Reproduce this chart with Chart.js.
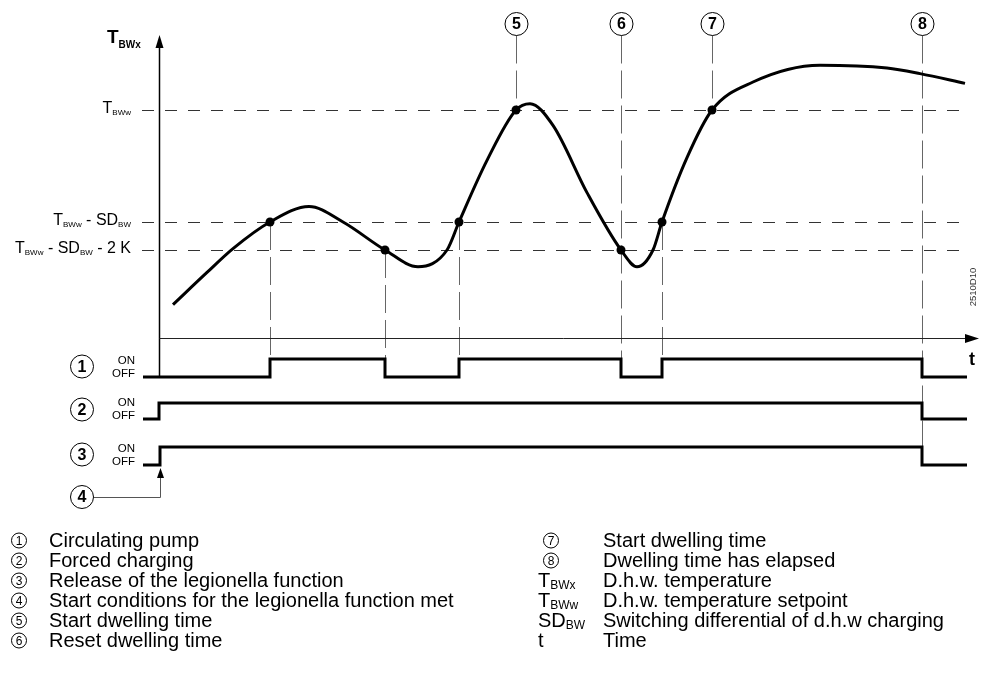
<!DOCTYPE html>
<html>
<head>
<meta charset="utf-8">
<title>Legionella function</title>
<script src="https://cdn.jsdelivr.net/npm/chart.js@4.4.0/dist/chart.umd.min.js"></script>
<style>
  html, body { margin: 0; padding: 0; background: #fff; }
  #wrap { position: relative; width: 985px; height: 681px; }
</style>
</head>
<body>
<div id="wrap"><canvas id="chart" width="985" height="681"></canvas></div>
<script>
/* d.h.w. temperature curve (time units, degC) */
const tempTime  = [1.4, 4.8, 7.4, 11.1, 15.0, 18.4, 22.6, 25.9, 28.8, 30.0, 32.8, 35.7, 37.1, 39.4, 42.8, 46.2, 47.8, 49.4, 50.3, 52.8, 55.3, 59.4, 66.1, 72.8, 76.1, 80.6];
const tempValue = [46.1, 48.4, 50.1, 52.0, 53.1, 52.0, 50.0, 48.8, 50.0, 52.0, 56.4, 60.0, 60.45, 58.9, 54.1, 50.0, 48.8, 50.0, 52.0, 56.6, 60.0, 62.0, 63.2, 63.0, 62.6, 61.9];
const markTime  = [11.1, 22.6, 30.0, 35.7, 46.2, 50.3, 55.3];

/* setpoint and switching differentials */
const setpoint   = 60;
const switchDiff = 8;
const extraDiff  = 2;

/* on/off signals: 1 = ON, 0 = OFF */
const pumpTime     = [-1.6, 11.1, 22.6, 30.0, 46.2, 50.3, 76.3, 80.8];
const pumpState    = [0, 1, 0, 1, 0, 1, 0, 0];
const forcedTime   = [-1.6, 0, 76.3, 80.8];
const forcedState  = [0, 1, 0, 0];
const releaseTime  = [-1.6, 0.1, 76.3, 80.8];
const releaseState = [0, 1, 0, 0];

/* event markers (vertical lines) */
const eventTime = [11.1, 22.6, 30.0, 35.7, 46.2, 50.3, 55.3, 76.3];
const eventTag  = ['', '', '', '5', '6', '', '7', '8'];
const eventLane = [1, 1, 1, 0, 1, 1, 0, 3];

/* key */
const keyLeft = [
  ['1', 'Circulating pump'],
  ['2', 'Forced charging'],
  ['3', 'Release of the legionella function'],
  ['4', 'Start conditions for the legionella function met'],
  ['5', 'Start dwelling time'],
  ['6', 'Reset dwelling time']
];
const keyRight = [
  [['7'], 'Start dwelling time'],
  [['8'], 'Dwelling time has elapsed'],
  [['T', 'BWx'], 'D.h.w. temperature'],
  [['T', 'BWw'], 'D.h.w. temperature setpoint'],
  [['SD', 'BW'], 'Switching differential of d.h.w charging'],
  [['t'], 'Time']
];

const levels = [setpoint, setpoint - switchDiff, setpoint - switchDiff - extraDiff];
const FONT = '"Liberation Sans", Arial, sans-serif';

function toPoints(xs, ys) {
  return xs.map((v, i) => ({ x: v, y: ys[i] }));
}

function font(size, bold) {
  return (bold ? 'bold ' : '') + size + 'px ' + FONT;
}

/* parts: [text, size, bold, drop] */
function drawRich(ctx, parts, x, y, align) {
  let w = 0;
  parts.forEach(p => { ctx.font = font(p[1], p[2]); w += ctx.measureText(p[0]).width; });
  let cx = align === 'right' ? x - w : x;
  ctx.textAlign = 'left';
  parts.forEach(p => {
    ctx.font = font(p[1], p[2]);
    ctx.fillText(p[0], cx, y + (p[3] || 0));
    cx += ctx.measureText(p[0]).width;
  });
}

function circled(ctx, txt, x, y, r, size, bold) {
  ctx.beginPath();
  ctx.arc(x, y, r, 0, Math.PI * 2);
  ctx.lineWidth = 1;
  ctx.strokeStyle = '#000';
  ctx.setLineDash([]);
  ctx.stroke();
  ctx.font = font(size, bold);
  ctx.textAlign = 'center';
  ctx.textBaseline = 'middle';
  ctx.fillText(txt, x, y + 1);
  ctx.textBaseline = 'alphabetic';
}

function line(ctx, x1, y1, x2, y2) {
  ctx.beginPath();
  ctx.moveTo(x1, y1);
  ctx.lineTo(x2, y2);
  ctx.stroke();
}

function curveAt(t) {
  const i = tempTime.indexOf(t);
  return tempValue[i];
}

const diagram = {
  id: 'diagram',
  beforeDatasetsDraw(chart) {
    const { ctx, scales } = chart;
    const x = scales.x, y = scales.y;
    const x0 = x.getPixelForValue(0);
    const axisY = y.getPixelForValue(43.7);
    ctx.save();

    // threshold lines
    ctx.strokeStyle = '#333';
    ctx.lineWidth = 1;
    ctx.setLineDash([12, 11]);
    levels.forEach(v => {
      const py = Math.round(y.getPixelForValue(v)) + 0.5;
      line(ctx, 142, py, 968, py);
    });

    // event lines
    ctx.strokeStyle = '#666';
    ctx.setLineDash([28, 7]);
    eventTime.forEach((t, i) => {
      const px = Math.round(x.getPixelForValue(t)) + 0.5;
      const top = eventTag[i] ? 35.5 : y.getPixelForValue(curveAt(t));
      let bottom;
      if (eventLane[i] === 0) bottom = y.getPixelForValue(curveAt(t));
      else bottom = scales['s' + eventLane[i]].getPixelForValue(1);
      line(ctx, px, top, px, bottom);
    });

    // axes
    ctx.setLineDash([]);
    ctx.strokeStyle = '#000';
    ctx.lineWidth = 1.5;
    const yx = Math.round(x0) + 0.5;
    line(ctx, yx, 46, yx, scales.s1.getPixelForValue(0));
    ctx.lineWidth = 1;
    ctx.strokeStyle = '#222';
    const ay = Math.round(axisY) + 0.5;
    line(ctx, yx, ay, 968, ay);
    ctx.fillStyle = '#000';
    ctx.beginPath();
    ctx.moveTo(yx, 35); ctx.lineTo(yx - 4, 48); ctx.lineTo(yx + 4, 48); ctx.closePath(); ctx.fill();
    ctx.beginPath();
    ctx.moveTo(979, ay); ctx.lineTo(965, ay - 4.5); ctx.lineTo(965, ay + 4.5); ctx.closePath(); ctx.fill();

    // start conditions arrow (4)
    const rx = Math.round(x.getPixelForValue(releaseTime[1])) + 0.5;
    const off3 = scales.s3.getPixelForValue(0);
    ctx.strokeStyle = '#555';
    ctx.lineWidth = 1;
    line(ctx, 94, 497.5, rx, 497.5);
    line(ctx, rx, 497.5, rx, off3 + 12);
    ctx.beginPath();
    ctx.moveTo(rx, off3 + 3); ctx.lineTo(rx - 3.5, off3 + 13); ctx.lineTo(rx + 3.5, off3 + 13); ctx.closePath(); ctx.fill();
    ctx.restore();
  },
  afterDatasetsDraw(chart) {
    const { ctx, scales } = chart;
    const x = scales.x, y = scales.y;
    ctx.save();
    ctx.fillStyle = '#000';

    // axis titles
    drawRich(ctx, [['T', 19, true], ['BWx', 10, true, 5]], 107, 43, 'left');
    ctx.font = font(18, true);
    ctx.textAlign = 'center';
    ctx.fillText('t', 972, 365);

    // level labels
    const ly = levels.map(v => y.getPixelForValue(v));
    drawRich(ctx, [['T', 16], ['BWw', 8, false, 2]], 131, ly[0] + 3.5, 'right');
    drawRich(ctx, [['T', 16], ['BWw', 8, false, 2], [' - SD', 16], ['BW', 8, false, 2]], 131, ly[1] + 3.5, 'right');
    drawRich(ctx, [['T', 16], ['BWw', 8, false, 2], [' - SD', 16], ['BW', 8, false, 2], [' - 2 K', 16]], 131, ly[2] + 3.5, 'right');

    // event tags
    eventTime.forEach((t, i) => {
      if (!eventTag[i]) return;
      circled(ctx, eventTag[i], Math.round(x.getPixelForValue(t)) + 0.5, 24, 11.5, 16, true);
    });

    // signal lanes
    ['s1', 's2', 's3'].forEach((id, i) => {
      const on = scales[id].getPixelForValue(1);
      const off = scales[id].getPixelForValue(0);
      circled(ctx, String(i + 1), 82, (on + off) / 2 - 1.5, 11.5, 16, true);
      ctx.font = font(11.5);
      ctx.textAlign = 'right';
      ctx.fillText('ON', 135, off - 13);
      ctx.fillText('OFF', 135, off);
    });
    circled(ctx, '4', 82, 497, 11.5, 16, true);

    // drawing number
    ctx.save();
    ctx.translate(976, 287);
    ctx.rotate(-Math.PI / 2);
    ctx.font = font(9.5);
    ctx.fillStyle = '#333';
    ctx.textAlign = 'center';
    ctx.fillText('2510D10', 0, 0);
    ctx.restore();

    // key
    keyLeft.forEach((row, i) => {
      const by = 547 + 20 * i;
      circled(ctx, row[0], 19, by - 6.5, 7.5, 12, false);
      ctx.font = font(20);
      ctx.textAlign = 'left';
      ctx.fillText(row[1], 49, by);
    });
    keyRight.forEach((row, i) => {
      const by = 547 + 20 * i;
      const sym = row[0];
      if (sym.length === 1 && /\d/.test(sym[0])) {
        circled(ctx, sym[0], 551, by - 6.5, 7.5, 12, false);
      } else if (sym.length === 2) {
        drawRich(ctx, [[sym[0], 20], [sym[1], 12, false, 1.5]], 538, by, 'left');
      } else {
        ctx.font = font(20);
        ctx.textAlign = 'left';
        ctx.fillText(sym[0], 538, by);
      }
      ctx.font = font(20);
      ctx.textAlign = 'left';
      ctx.fillText(row[1], 603, by);
    });
    ctx.restore();
  }
};

const signalStyle = {
  borderColor: '#000',
  borderWidth: 3,
  stepped: true,
  pointRadius: 0,
  fill: false
};

new Chart(document.getElementById('chart'), {
  type: 'line',
  data: {
    datasets: [
      {
        label: 'T_BWx',
        data: toPoints(tempTime, tempValue),
        yAxisID: 'y',
        borderColor: '#000',
        borderWidth: 3,
        cubicInterpolationMode: 'monotone',
        pointRadius: tempTime.map(t => markTime.includes(t) ? 4.5 : 0),
        pointBackgroundColor: '#000',
        pointBorderColor: '#000',
        pointBorderWidth: 0,
        fill: false
      },
      Object.assign({ label: 'Circulating pump', data: toPoints(pumpTime, pumpState), yAxisID: 's1' }, signalStyle),
      Object.assign({ label: 'Forced charging', data: toPoints(forcedTime, forcedState), yAxisID: 's2' }, signalStyle),
      Object.assign({ label: 'Release', data: toPoints(releaseTime, releaseState), yAxisID: 's3' }, signalStyle)
    ]
  },
  options: {
    responsive: false,
    animation: false,
    devicePixelRatio: 1,
    layout: { padding: { left: 139, right: 6, top: 35, bottom: 181 } },
    plugins: { legend: { display: false }, tooltip: { enabled: false } },
    scales: {
      x: { type: 'linear', min: -2, max: 82, display: false },
      y: { min: 32.143, max: 65.357, display: false },
      s1: { min: -6.833, max: 19.0, display: false },
      s2: { min: -5.0625, max: 24.0, display: false },
      s3: { min: -1.944, max: 23.889, display: false }
    }
  },
  plugins: [diagram]
});
</script>
</body>
</html>
